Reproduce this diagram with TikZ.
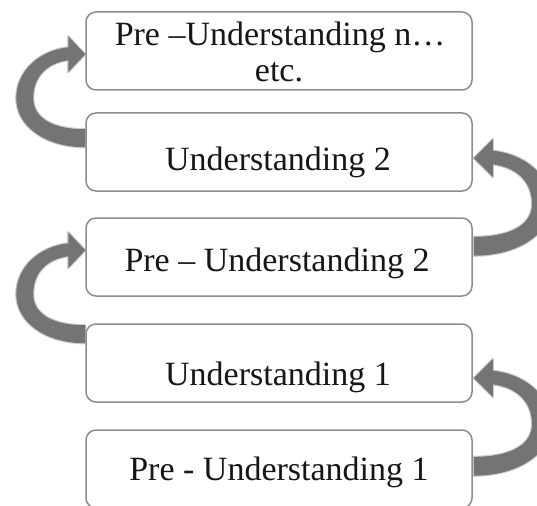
\documentclass[tikz,border=0pt]{standalone}
\usepackage{fontspec}
\setmainfont{Liberation Serif}
\usetikzlibrary{calc}

\definecolor{boxline}{HTML}{8C8C8C}
\definecolor{arrowgray}{HTML}{747474}
\definecolor{inkblack}{HTML}{161616}

\tikzset{
  stagebox/.style={draw=boxline, line width=1.5pt, rounded corners=10pt,
    fill=white, minimum width=386pt, minimum height=78pt, inner sep=0pt},
  stagetext/.style={anchor=base, text=inkblack, align=center,
    font=\fontsize{34}{37}\selectfont},
  loopfill/.style={fill=arrowgray},
  loophalo/.style={draw=arrowgray, line width=2.2pt, opacity=0.35, line join=round},
}

% curved block arrow: tail at the local origin, bulging outwards (+x),
% head coming back to the box edge above (y grows downwards)
\newcommand{\looparrowshape}{%
  (0,9) .. controls (40,9) and (69,-12) .. (69,-40)
        .. controls (69,-68) and (45,-88) .. (17,-91)
  -- (17,-102) -- (0,-84) -- (17,-66) -- (17,-78)
        .. controls (38,-75) and (52,-62) .. (52,-40)
        .. controls (52,-20) and (32,-9) .. (0,-9) -- cycle}

\begin{document}
\begin{tikzpicture}[x=1pt, y=-1pt]
  \useasboundingbox (0,0) rectangle (537,505);
  \clip (0,0) rectangle (537,505);

  % stage boxes (geometry only, used as anchors)
  \path
    (279,51)  node[stagebox, draw=none, fill=none] (p1) {}
    (279,152) node[stagebox, draw=none, fill=none] (p2) {}
    (279,257) node[stagebox, draw=none, fill=none] (p3) {}
    (279,363) node[stagebox, draw=none, fill=none] (p4) {}
    (279,469) node[stagebox, draw=none, fill=none] (p5) {};

  \coordinate (a1) at ($(p2.north west)+(0,26)$);
  \coordinate (a2) at ($(p4.north west)+(0,11)$);
  \coordinate (a3) at ($(p3.north east)+(1,29)$);
  \coordinate (a4) at ($(p5.north east)+(1,37)$);

  % loop arrows on the left side
  \foreach \a in {a1,a2}{
    \begin{scope}[shift={(\a)}, xscale=-1]
      \path[loophalo] \looparrowshape;
      \path[loopfill] \looparrowshape;
    \end{scope}
  }
  % loop arrows on the right side, running off the page edge
  \foreach \a in {a3,a4}{
    \begin{scope}[shift={(\a)}, xscale=1.12, yscale=1.05]
      \path[loophalo] \looparrowshape;
      \path[loopfill] \looparrowshape;
    \end{scope}
  }

  % the boxes themselves
  \node[stagebox] (b1) at (p1) {};
  \node[stagebox] (b2) at (p2) {};
  \node[stagebox] (b3) at (p3) {};
  \node[stagebox] (b4) at (p4) {};
  \node[stagebox] (b5) at (p5) {};

  % labels
  \node[stagetext] (t1a) at (280,45.5) {Pre –Understanding n…};
  \node[stagetext] (t1b) at (279,81.5) {etc.};
  \node[stagetext] (t2) at (278,170) {Understanding 2};
  \node[stagetext] (t3) at (277,271) {Pre – Understanding 2};
  \node[stagetext] (t4) at (278,385) {Understanding 1};
  \node[stagetext] (t5) at (279,480) {Pre - Understanding 1};
\end{tikzpicture}
\end{document}
